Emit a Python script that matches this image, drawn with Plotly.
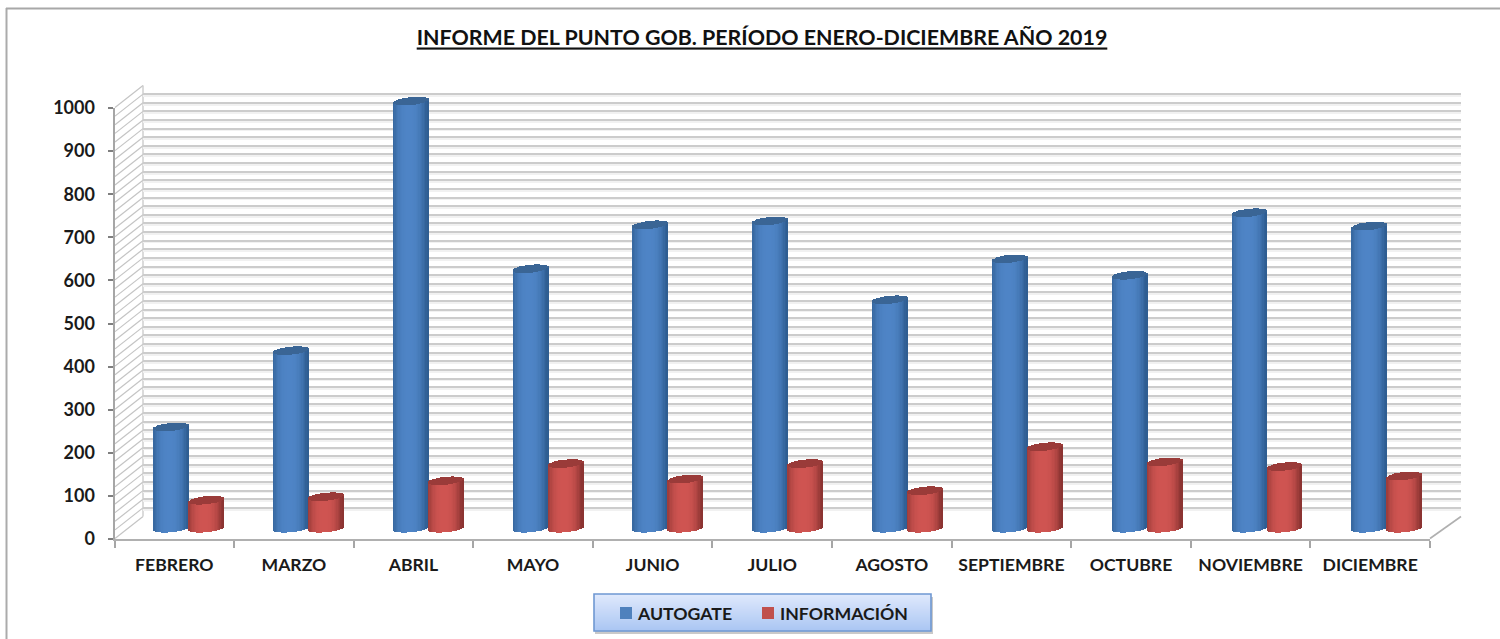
import plotly.graph_objects as go

TITLE = "INFORME DEL PUNTO GOB. PERÍODO ENERO-DICIEMBRE AÑO 2019"
MONTHS = ["FEBRERO", "MARZO", "ABRIL", "MAYO", "JUNIO", "JULIO", "AGOSTO",
          "SEPTIEMBRE", "OCTUBRE", "NOVIEMBRE", "DICIEMBRE"]
AUTOGATE = [235, 412, 991, 602, 704, 713, 530, 625, 587, 732, 701]
INFORMACION = [65, 73, 110, 150, 114, 150, 87, 189, 154, 143, 121]
SERIES_NAMES = ["AUTOGATE", "INFORMACIÓN"]
Y_TICKS = list(range(0, 1001, 100))

W, H = 1500, 639
FONT = "Lato, Carlito, Calibri, sans-serif"
INK = "#1a1a1a"
GRID = "#cccccc"
UNIT_PX = 431 / 1000


def dx(a, b):
    return [a / W, b / W]


def dy(top, bottom):
    return [1 - bottom / H, 1 - top / H]


def px(x):
    return x / W


def py(y):
    return 1 - y / H


def hexrgb(c):
    return [int(c[i:i + 2], 16) for i in (1, 3, 5)]


def mix(a, b, f):
    ra, rb = hexrgb(a), hexrgb(b)
    return "rgb(%d,%d,%d)" % tuple(round(p + (q - p) * f) for p, q in zip(ra, rb))


fig = go.Figure()
hidden = dict(visible=False, fixedrange=True)

# back wall (soft shadow of gridlines, then gridlines), drawn first
for n, color, width in ((1, "#f1f1f1", 2), (2, GRID, 1.5)):
    s = "" if n == 1 else str(n)
    shift = 1.8 if n == 1 else 0.0
    fig.add_trace(go.Scatter(x=[0, 1], y=[0, 1000], mode="lines", line=dict(width=0),
                             hoverinfo="skip", showlegend=False,
                             xaxis="x" + s, yaxis="y" + s))
    fig.layout["xaxis" + s] = dict(domain=dx(143, 1461), range=[0, 1], visible=False,
                                   anchor="y" + s)
    fig.layout["yaxis" + s] = dict(domain=dy(85.5 + shift, 516.5 + shift), range=[0, 1000],
                                   anchor="x" + s, tick0=0, dtick=20, showgrid=True,
                                   gridcolor=color, gridwidth=width, zeroline=False,
                                   showline=False, ticks="", showticklabels=False)

# front axes
fig.add_trace(go.Bar(x=MONTHS, y=[0] * len(MONTHS), hoverinfo="skip", showlegend=False,
                     xaxis="x3", yaxis="y3", marker=dict(line=dict(width=0))))
fig.layout.xaxis3 = dict(domain=dx(114.5, 1430), anchor="y3", type="category",
                         tickson="boundaries", ticks="outside", ticklen=7, tickwidth=1.5,
                         tickcolor="#a6a6a6", showline=True, linecolor="#b0b0b0", linewidth=2,
                         showgrid=False, zeroline=False, ticklabelstandoff=9,
                         tickfont=dict(family=FONT, size=17.6, color=INK, weight=700))
fig.layout.yaxis3 = dict(domain=dy(108, 539), range=[0, 1000], anchor="x3",
                         tickvals=Y_TICKS, ticks="outside", ticklen=5, tickwidth=1.5,
                         tickcolor="#7f7f7f", showline=True, linecolor="#a6a6a6", linewidth=2,
                         showgrid=False, zeroline=False, ticklabelstandoff=9,
                         tickfont=dict(family=FONT, size=18, color=INK, weight=700))

# cylinders: each is a stack of thin bars on an axis pair in the middle depth plane
STRIPS = 26
CYL_W = 35 / 119.8
BULGE = 4.0 / UNIT_PX
TILT = 1.7 / UNIT_PX
PAD = 40
SERIES = [
    (SERIES_NAMES[0], AUTOGATE, -CYL_W / 2, "#2f5e92", "#4e84c6", "#3a6595"),
    (SERIES_NAMES[1], INFORMACION, CYL_W / 2, "#8c3432", "#cf5451", "#9a3b39"),
]
for name, values, off, edge, mid, cap in SERIES:
    for j in range(STRIPS):
        t = -1 + (2 * j + 1) / STRIPS
        xs = [i + off + t * CYL_W / 2 for i in range(len(values))]
        arc = (1 - t * t) ** 0.5
        low = -BULGE * arc + TILT * t
        shade = max(0.0, 1 - abs(t + 0.08) ** 2.6)
        body = mix(edge, mid, shade)
        fig.add_trace(go.Bar(x=xs, y=values, base=[low] * len(values),
                             width=CYL_W / STRIPS * 1.25, name=name, showlegend=False,
                             marker=dict(color=body, line=dict(width=0)),
                             hoverinfo="skip", cliponaxis=False, xaxis="x4", yaxis="y4"))
        fig.add_trace(go.Bar(x=xs, y=[2 * BULGE * arc] * len(values),
                             base=[v + low for v in values],
                             width=CYL_W / STRIPS * 1.25, name=name, showlegend=False,
                             marker=dict(color=cap, line=dict(width=0)),
                             hoverinfo="skip", cliponaxis=False, xaxis="x4", yaxis="y4"))
fig.layout.xaxis4 = dict(domain=dx(129.3, 1447.2), range=[-0.5, 10.5], anchor="y4", **hidden)
fig.layout.yaxis4 = dict(domain=dy(97 - PAD * UNIT_PX, 528 + PAD * UNIT_PX),
                         range=[-PAD, 1000 + PAD], anchor="x4", **hidden)

# chart frame, side wall and floor edges
shapes = []


def seg(x0, y0, x1, y1, color, width):
    shapes.append(dict(type="line", xref="paper", yref="paper", layer="below",
                       x0=px(x0), y0=py(y0), x1=px(x1), y1=py(y1),
                       line=dict(color=color, width=width)))


seg(6.5, 8, 6.5, H, "#ababab", 2)
seg(6, 8.5, W, 8.5, "#a8a8a8", 2)
for v in range(0, 1001, 20):
    yf = 538.5 - v * UNIT_PX
    seg(115, yf, 143, yf - 22, "#c4c4c4", 1.2)
seg(143, 85.5, 143, 516.5, GRID, 1.4)
seg(1430, 538.5, 1461, 516.5, "#b0b0b0", 1.6)

# legend box
LX0, LX1, LY0, LY1 = 594, 931, 594, 631
shapes.append(dict(type="rect", xref="paper", yref="paper", layer="below",
                   x0=px(LX0 + 1), x1=px(LX1 + 2), y0=py(LY0 + 3), y1=py(LY1 + 3),
                   fillcolor="#c9c9c9", line=dict(width=0)))
for y in range(LY0, LY1):
    shapes.append(dict(type="rect", xref="paper", yref="paper", layer="below",
                       x0=px(LX0), x1=px(LX1), y0=py(y), y1=py(y + 1.2),
                       fillcolor=mix("#dfe9fc", "#a9c5f3", (y - LY0) / (LY1 - LY0)),
                       line=dict(width=0)))
shapes.append(dict(type="rect", xref="paper", yref="paper", layer="below",
                   x0=px(LX0), x1=px(LX1), y0=py(LY0), y1=py(LY1),
                   line=dict(color="#6f98d2", width=1.6)))
annotations = []
for name, sx, tx, color in ((SERIES_NAMES[0], 620, 635, "#4f81bd"),
                            (SERIES_NAMES[1], 762, 778, "#c0504d")):
    shapes.append(dict(type="rect", xref="paper", yref="paper", layer="below",
                       x0=px(sx), x1=px(sx + 12), y0=py(607), y1=py(619),
                       fillcolor=color, line=dict(width=0)))
    annotations.append(dict(text=name, xref="paper", yref="paper", x=px(tx), y=py(613),
                            xanchor="left", yanchor="middle", showarrow=False,
                            font=dict(family=FONT, size=17.7, color=INK, weight=700)))

fig.update_layout(
    width=W, height=H, autosize=False,
    margin=dict(l=0, r=0, t=0, b=0, pad=0, autoexpand=False),
    paper_bgcolor="white", plot_bgcolor="rgba(0,0,0,0)",
    barmode="overlay", bargap=0, showlegend=False,
    shapes=shapes, annotations=annotations,
    title=dict(text="<u>" + TITLE + "</u>", x=px(762), xanchor="center", xref="paper",
               y=py(38), yanchor="middle", yref="paper",
               font=dict(family=FONT, size=21.4, color="#111111", weight=700)),
    font=dict(family=FONT),
)

fig.write_html("out.html", config={"displayModeBar": False},
               post_script="document.body.style.margin='0';document.body.style.overflow='hidden';")
